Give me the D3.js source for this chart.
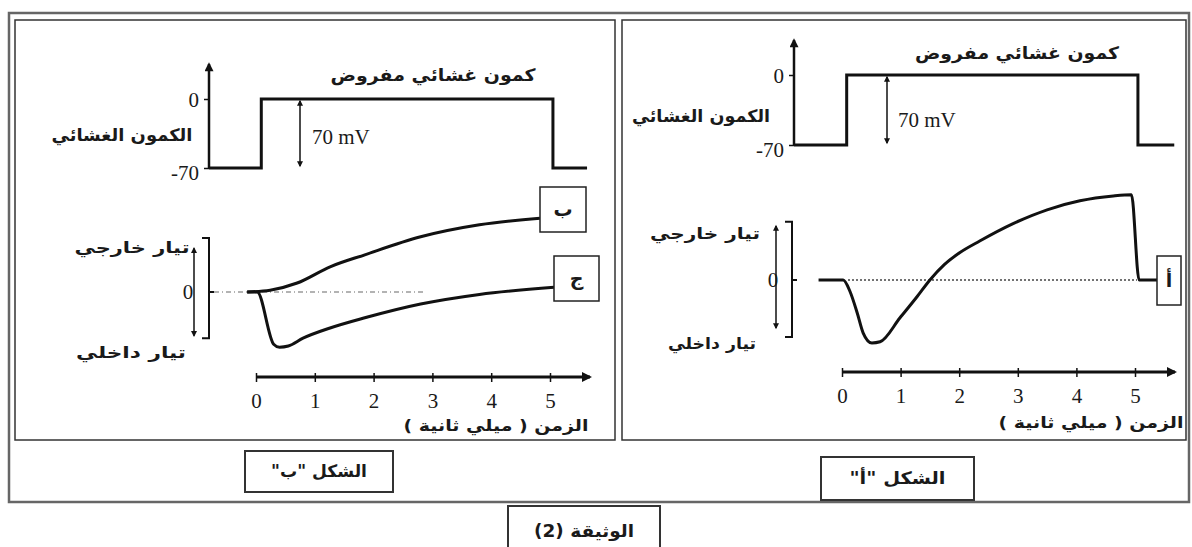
<!DOCTYPE html>
<html>
<head>
<meta charset="utf-8">
<script src="https://cdn.jsdelivr.net/npm/d3@7"></script>
<style>
  body { margin: 0; background: #fff; }
  svg { display: block; }
  .num { font-family: "Liberation Serif", "Times New Roman", serif; fill: #1a1a1a; }
  .ar { font-family: "DejaVu Sans", sans-serif; fill: #1a1a1a; font-weight: bold; }
</style>
</head>
<body>
<div id="chart"></div>
<script>
document.addEventListener('DOMContentLoaded', init, false);

var width = 1192;
var height = 547;

var timeTicks = [0, 1, 2, 3, 4, 5];
var voltageTicks = [0, -70];

// figure "أ" (right): imposed step and total membrane current
var voltTimeA = [-0.82, 0.08, 0.08, 5.05, 5.05, 5.67];
var voltValueA = [-70, -70, 0, 0, -70, -70];
var currTimeA = [-0.4, 0.02, 0.14, 0.26, 0.36, 0.51, 0.65, 0.99, 1.28, 1.5, 1.75, 2.0, 2.35, 2.92, 3.5, 4.06, 4.63, 4.94, 5.07, 5.35];
var currValueA = [0, 0, -0.2, -0.55, -0.88, -1.05, -1.03, -0.63, -0.28, 0, 0.26, 0.45, 0.65, 0.94, 1.17, 1.32, 1.4, 1.42, 0, 0];

// figure "ب" (left): same step, current split in two
var voltTimeB = [-0.8, 0.09, 0.09, 5.05, 5.05, 5.63];
var voltValueB = [-70, -70, 0, 0, -70, -70];
var outTimeB = [-0.15, 0.24, 0.7, 1.26, 1.85, 2.8, 3.8, 4.83];
var outValueB = [0, 0.03, 0.15, 0.42, 0.62, 0.92, 1.12, 1.23];
var inTimeB = [-0.15, 0.02, 0.3, 0.4, 0.55, 0.8, 1.26, 1.85, 2.8, 3.8, 5.07];
var inValueB = [0, 0, -0.87, -0.92, -0.9, -0.77, -0.6, -0.43, -0.2, -0.04, 0.08];

var titleText = 'كمون غشائي مفروض';
var voltLabel = 'الكمون الغشائي';
var outLabel = 'تيار خارجي';
var inLabel = 'تيار داخلي';
var timeLabel = 'الزمن ( ميلي ثانية )';
var stepLabel = '70 mV';
var docLabel = 'الوثيقة (2)';

function zip(t, v) {
  return t.map(function (d, i) { return { t: d, v: v[i] }; });
}

// arabic label with a fixed width, like the scanned lettering
function arText(g, x, y, str, size, len, anchor, rtl) {
  var t = g.append('text')
    .attr('class', 'ar')
    .attr('x', x)
    .attr('y', y)
    .attr('dy', '0.35em')
    .attr('text-anchor', anchor || 'middle')
    .attr('font-size', size)
    .text(str);
  if (rtl) t.attr('direction', 'rtl');
  if (len) t.attr('textLength', len).attr('lengthAdjust', 'spacingAndGlyphs');
  return t;
}

function init() {

  var svg = d3.select('#chart')
    .append('svg')
      .attr('width', width)
      .attr('height', height)
      .attr('viewBox', '0 0 ' + width + ' ' + height);

  drawDefs(svg);
  drawFrames(svg);

  drawPanel(svg, {
    t0: 256, t5: 550,
    v0: 99, v70: 168, vAxisX: 209, vTop: 64,
    iZero: 292, iArrowX: 194, arrowSpan: [-0.73, 0.73], bracketX: 209, bracketSpan: [-0.77, 0.9], zeroX: 188,
    timeY: 377, timeEnd: 590, timeLabelX: 496, timeLabelY: 425,
    titleX: 433, titleY: 75, titleLen: 205,
    voltLabelX: 122, voltLabelY: 135, voltLen: 141,
    stepX: 300, stepTextX: 312, stepTextY: 137,
    outLabelPos: [132, 247, 115], inLabelPos: [131, 352, 110],
    zeroLine: [214, 425], zeroDash: '5,3,1,3', zeroColor: '#9a9a9a',
    volt: zip(voltTimeB, voltValueB),
    traces: [
      { data: zip(outTimeB, outValueB), tag: 'ب', box: [540, 187, 46, 45] },
      { data: zip(inTimeB, inValueB), tag: 'ج', box: [554, 256, 45, 45] }
    ],
    figLabel: 'الشكل "ب"', figBox: [245, 451, 148, 41]
  });

  drawPanel(svg, {
    t0: 842, t5: 1135,
    v0: 75, v70: 145, vAxisX: 794, vTop: 40,
    iZero: 280, iArrowX: 776, arrowSpan: [-0.8, 0.9], bracketX: 792, bracketSpan: [-0.95, 0.97], zeroX: 773,
    timeY: 372, timeEnd: 1175, timeLabelX: 1091, timeLabelY: 422,
    titleX: 1017, titleY: 53, titleLen: 204,
    voltLabelX: 701, voltLabelY: 116, voltLen: 138,
    stepX: 887, stepTextX: 898, stepTextY: 120,
    outLabelPos: [705, 233, 110], inLabelPos: [712, 343, 88],
    zeroLine: [848, 1137], zeroDash: '2,2', zeroColor: '#444',
    volt: zip(voltTimeA, voltValueA),
    traces: [
      { data: zip(currTimeA, currValueA), tag: 'أ', box: [1157, 256, 24, 49] }
    ],
    figLabel: 'الشكل "أ"', figBox: [821, 457, 153, 43]
  });

  // document label under the frame
  svg.append('path')
    .attr('d', 'M508,560 V506 H660 V560')
    .attr('fill', 'none')
    .attr('stroke', '#333')
    .attr('stroke-width', 2);

  arText(svg, 584, 531, docLabel, 17, 100, 'middle', true);
}

function drawDefs(svg) {

  var defs = svg.append('defs');

  [['big', 14, 10], ['mid', 11, 9], ['small', 7, 6]].forEach(function (m) {
    defs.append('marker')
      .attr('id', 'arrow-' + m[0])
      .attr('viewBox', '0 0 10 10')
      .attr('refX', 8)
      .attr('refY', 5)
      .attr('markerUnits', 'userSpaceOnUse')
      .attr('markerWidth', m[1])
      .attr('markerHeight', m[2])
      .attr('orient', 'auto-start-reverse')
    .append('path')
      .attr('d', 'M0,0 L10,5 L0,10 z')
      .attr('fill', '#111');
  });
}

function drawFrames(svg) {

  var g = svg.append('g').attr('class', 'frames').attr('fill', 'none');

  g.append('rect')
    .attr('x', 9).attr('y', 13)
    .attr('width', 1180).attr('height', 489)
    .attr('stroke', '#666')
    .attr('stroke-width', 2.5);

  g.append('rect')
    .attr('x', 15).attr('y', 20)
    .attr('width', 600).attr('height', 420)
    .attr('stroke', '#333')
    .attr('stroke-width', 1.5);

  g.append('rect')
    .attr('x', 622).attr('y', 20)
    .attr('width', 564).attr('height', 420)
    .attr('stroke', '#333')
    .attr('stroke-width', 1.5);
}

function drawPanel(svg, p) {

  var g = svg.append('g');

  var x = d3.scaleLinear()
    .domain([0, 5])
    .range([p.t0, p.t5]);

  var yV = d3.scaleLinear()
    .domain([-70, 0])
    .range([p.v70, p.v0]);

  var yI = d3.scaleLinear()
    .domain([-1, 1])
    .range([p.iZero + 60, p.iZero - 60]);

  // ---- voltage part
  var vAxis = g.append('g')
    .attr('transform', 'translate(' + p.vAxisX + ',0)')
    .call(d3.axisLeft(yV)
      .tickValues(voltageTicks)
      .tickSize(5)
      .tickPadding(5)
      .tickFormat(function (d) { return String(d); }));

  vAxis.select('.domain').remove();
  vAxis.selectAll('line').attr('stroke', '#111').attr('stroke-width', 1.5);
  vAxis.selectAll('text')
    .attr('font-size', 21)
    .attr('font-family', '"Liberation Serif", serif')
    .attr('fill', '#1a1a1a')
    .attr('dy', function (d) { return d === 0 ? '0.35em' : '0.55em'; });

  g.append('line')
    .attr('x1', p.vAxisX).attr('x2', p.vAxisX)
    .attr('y1', yV(-70)).attr('y2', p.vTop)
    .attr('stroke', '#111')
    .attr('stroke-width', 2.5)
    .attr('marker-end', 'url(#arrow-mid)');

  var vLine = d3.line()
    .x(function (d) { return Math.max(p.vAxisX, x(d.t)); })
    .y(function (d) { return yV(d.v); });

  g.append('path')
    .attr('fill', 'none')
    .attr('stroke', '#111')
    .attr('stroke-width', 3)
    .attr('d', vLine(p.volt));

  g.append('line')
    .attr('x1', p.stepX).attr('x2', p.stepX)
    .attr('y1', yV(0) + 2).attr('y2', yV(-70) - 2)
    .attr('stroke', '#111')
    .attr('stroke-width', 1.5)
    .attr('marker-start', 'url(#arrow-small)')
    .attr('marker-end', 'url(#arrow-small)');

  g.append('text')
    .attr('class', 'num')
    .attr('x', p.stepTextX)
    .attr('y', p.stepTextY)
    .attr('dy', '0.35em')
    .attr('font-size', 21)
    .text(stepLabel);

  arText(g, p.titleX, p.titleY, titleText, 17, p.titleLen);
  arText(g, p.voltLabelX, p.voltLabelY, voltLabel, 17, p.voltLen);

  // ---- current part
  g.append('line')
    .attr('x1', p.zeroLine[0]).attr('x2', p.zeroLine[1])
    .attr('y1', yI(0)).attr('y2', yI(0))
    .attr('stroke', p.zeroColor)
    .attr('stroke-width', 1.5)
    .attr('stroke-dasharray', p.zeroDash);

  g.append('line')
    .attr('x1', p.iArrowX).attr('x2', p.iArrowX)
    .attr('y1', yI(p.arrowSpan[0])).attr('y2', yI(p.arrowSpan[1]))
    .attr('stroke', '#111')
    .attr('stroke-width', 1.5)
    .attr('marker-start', 'url(#arrow-small)')
    .attr('marker-end', 'url(#arrow-small)');

  var b0 = yI(p.bracketSpan[0]);
  var b1 = yI(p.bracketSpan[1]);

  g.append('path')
    .attr('fill', 'none')
    .attr('stroke', '#111')
    .attr('stroke-width', 2)
    .attr('d', 'M' + (p.bracketX - 7) + ',' + b1 + ' H' + p.bracketX + ' V' + b0 + ' H' + (p.bracketX - 7) +
      ' M' + p.bracketX + ',' + yI(0) + ' H' + (p.bracketX + 5));

  g.append('text')
    .attr('class', 'num')
    .attr('x', p.zeroX)
    .attr('y', yI(0))
    .attr('dy', '0.35em')
    .attr('text-anchor', 'middle')
    .attr('font-size', 21)
    .text('0');

  arText(g, p.outLabelPos[0], p.outLabelPos[1], outLabel, 16, p.outLabelPos[2]);
  arText(g, p.inLabelPos[0], p.inLabelPos[1], inLabel, 16, p.inLabelPos[2]);

  var iLine = d3.line()
    .x(function (d) { return x(d.t); })
    .y(function (d) { return yI(d.v); })
    .curve(d3.curveMonotoneX);

  p.traces.forEach(function (tr) {

    var last = tr.data[tr.data.length - 1];

    g.append('path')
      .attr('fill', 'none')
      .attr('stroke', '#111')
      .attr('stroke-width', 3)
      .attr('stroke-linejoin', 'round')
      .attr('d', iLine(tr.data) + 'L' + tr.box[0] + ',' + yI(last.v));

    g.append('rect')
      .attr('x', tr.box[0]).attr('y', tr.box[1])
      .attr('width', tr.box[2]).attr('height', tr.box[3])
      .attr('fill', '#fff')
      .attr('stroke', '#222')
      .attr('stroke-width', 1.5);

    arText(g, tr.box[0] + tr.box[2] / 2, tr.box[1] + tr.box[3] / 2, tr.tag, 19)
      .attr('font-weight', 'normal');
  });

  // ---- time axis
  var tAxis = g.append('g')
    .attr('transform', 'translate(0,' + p.timeY + ')')
    .call(d3.axisBottom(x)
      .tickValues(timeTicks)
      .tickSize(5)
      .tickPadding(11)
      .tickFormat(d3.format('d')));

  tAxis.select('.domain').remove();
  tAxis.selectAll('line').attr('stroke', '#111').attr('stroke-width', 1.5).attr('y1', -4);
  tAxis.selectAll('text')
    .attr('font-size', 21)
    .attr('font-family', '"Liberation Serif", serif')
    .attr('fill', '#1a1a1a');

  g.append('line')
    .attr('x1', x(0)).attr('x2', p.timeEnd)
    .attr('y1', p.timeY).attr('y2', p.timeY)
    .attr('stroke', '#111')
    .attr('stroke-width', 3)
    .attr('marker-end', 'url(#arrow-big)');

  arText(g, p.timeLabelX, p.timeLabelY, timeLabel, 16, 185, 'middle', true);

  // ---- figure caption box
  g.append('rect')
    .attr('x', p.figBox[0]).attr('y', p.figBox[1])
    .attr('width', p.figBox[2]).attr('height', p.figBox[3])
    .attr('fill', '#fff')
    .attr('stroke', '#333')
    .attr('stroke-width', 2);

  arText(g, p.figBox[0] + p.figBox[2] / 2, p.figBox[1] + p.figBox[3] / 2, p.figLabel, 17, 96, 'middle', true);
}
</script>
</body>
</html>
